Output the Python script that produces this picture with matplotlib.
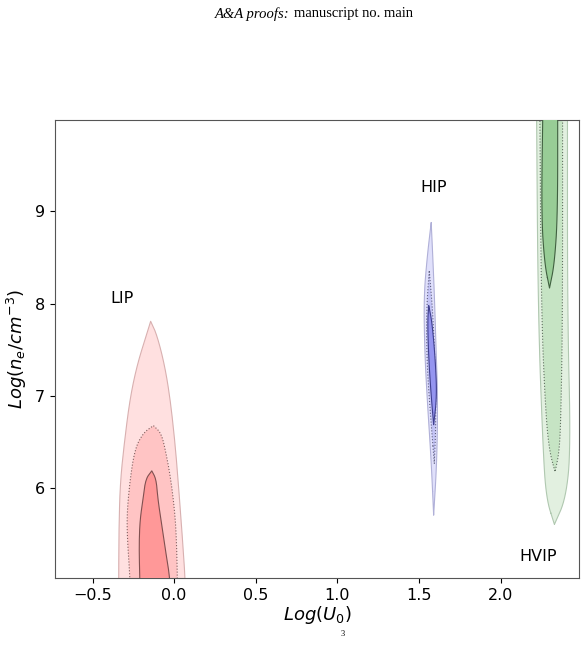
import numpy as np
import matplotlib
matplotlib.use("Agg")
import matplotlib.pyplot as plt

# Contour outlines: (y levels, left x, right x)
lip = [
    ([4.6, 4.8, 5.02, 5.6, 6.07, 6.5, 6.98, 7.35, 7.67, 7.81], [-0.34, -0.34, -0.34, -0.338, -0.33, -0.305, -0.27, -0.225, -0.168, -0.144], [0.068, 0.068, 0.068, 0.045, 0.025, 0.005, -0.025, -0.06, -0.107, -0.144]),
    ([4.6, 4.8, 5.02, 5.4, 5.71, 6.1, 6.43, 6.6, 6.68], [-0.27, -0.27, -0.27, -0.285, -0.29, -0.27, -0.24, -0.19, -0.127], [0.02, 0.02, 0.02, 0.015, 0.006, -0.02, -0.055, -0.08, -0.127]),
    ([4.6, 4.8, 5.02, 5.35, 5.65, 5.89, 6.1, 6.19], [-0.21, -0.21, -0.21, -0.215, -0.21, -0.19, -0.175, -0.137], [-0.025, -0.025, -0.025, -0.055, -0.08, -0.1, -0.11, -0.137]),
]
hip = [
    ([5.71, 6.3, 6.98, 7.5, 8.07, 8.5, 8.88], [1.59, 1.575, 1.55, 1.535, 1.53, 1.55, 1.575], [1.59, 1.61, 1.615, 1.605, 1.595, 1.585, 1.575]),
    ([6.27, 6.7, 7.3, 7.9, 8.36], [1.594, 1.575, 1.55, 1.545, 1.563], [1.594, 1.604, 1.6, 1.585, 1.563]),
    ([6.69, 7.0, 7.4, 7.8, 7.98], [1.59, 1.575, 1.56, 1.553, 1.56], [1.59, 1.61, 1.6, 1.58, 1.56]),
]
hvip = [
    ([5.61, 5.89, 6.43, 7.89, 10.2, 10.4, 10.6], [2.33, 2.28, 2.26, 2.23, 2.22, 2.22, 2.22], [2.33, 2.40, 2.43, 2.41, 2.41, 2.41, 2.41]),
    ([6.18, 6.4, 6.80, 7.89, 10.2, 10.4, 10.6], [2.334, 2.30, 2.277, 2.25, 2.24, 2.24, 2.24], [2.334, 2.36, 2.37, 2.38, 2.38, 2.38, 2.38]),
    ([8.17, 8.43, 8.97, 10.2, 10.4, 10.6], [2.30, 2.27, 2.25, 2.26, 2.26, 2.26], [2.30, 2.33, 2.35, 2.35, 2.35, 2.35]),
]
labels = ["LIP", "HIP", "HVIP"]
label_pos = [(-0.32, 8.06), (1.59, 9.26), (2.23, 5.26)]

fills = {
    "LIP": ["#ffe0e0", "#ffc4c4", "#ff9898"],
    "HIP": ["#e0e0fb", "#c4c4f6", "#9595f0"],
    "HVIP": ["#e2f0e0", "#c6e4c4", "#98cd96"],
}
edges = {
    "LIP": ["#d8b0b0", "#806060", "#805050"],
    "HIP": ["#b0b0d8", "#606080", "#404090"],
    "HVIP": ["#b0c8b0", "#607060", "#406040"],
}
styles = ["-", ":", "-"]


def chaikin(x, y, n=3):
    p = np.column_stack([x, y])
    for _ in range(n):
        q = np.roll(p, -1, axis=0)
        a = 0.75 * p + 0.25 * q
        b = 0.25 * p + 0.75 * q
        p = np.stack([a, b], axis=1).reshape(-1, 2)
    return p[:, 0], p[:, 1]


fig = plt.figure(figsize=(5.87, 6.61), dpi=100)
ax = fig.add_axes([0.0937, 0.1256, 0.8925, 0.6929])

for name, group in zip(labels, [lip, hip, hvip]):
    for i, (ys, xl, xr) in enumerate(group):
        px = list(xl) + list(xr)[::-1]
        py = list(ys) + list(ys)[::-1]
        sx, sy = chaikin(px, py)
        ax.fill(sx, sy, facecolor=fills[name][i], edgecolor="none", zorder=i + 1)
        ax.plot(np.append(sx, sx[0]), np.append(sy, sy[0]), color=edges[name][i],
                lw=0.8, ls=styles[i], zorder=i + 1.5)

for name, (tx, ty) in zip(labels, label_pos):
    ax.text(tx, ty, name, fontsize=11.5, ha="center", va="center")

ax.set_xlim(-0.73, 2.48)
ax.set_ylim(5.03, 9.99)
ax.set_xticks([-0.5, 0.0, 0.5, 1.0, 1.5, 2.0])
ax.set_yticks([6, 7, 8, 9])
ax.tick_params(labelsize=11.5)
ax.set_xlabel("$Log(U_0)$", fontsize=13, labelpad=1)
ax.set_ylabel("$Log(n_e/cm^{-3})$", fontsize=13)
for s in ax.spines.values():
    s.set_color("#555555")

fig.text(0.5, 1 - 14 / 661, "A&A proofs: ", ha="right", va="center",
         fontsize=10.5, family="Liberation Serif", style="italic")
fig.text(0.5, 1 - 14 / 661, "manuscript no. main", ha="left", va="center",
         fontsize=10.5, family="Liberation Serif")
fig.text(343 / 587, 1 - 634 / 661, "3", ha="center", va="center", fontsize=6,
         family="Liberation Serif")

fig.savefig("out.png", dpi=100)
